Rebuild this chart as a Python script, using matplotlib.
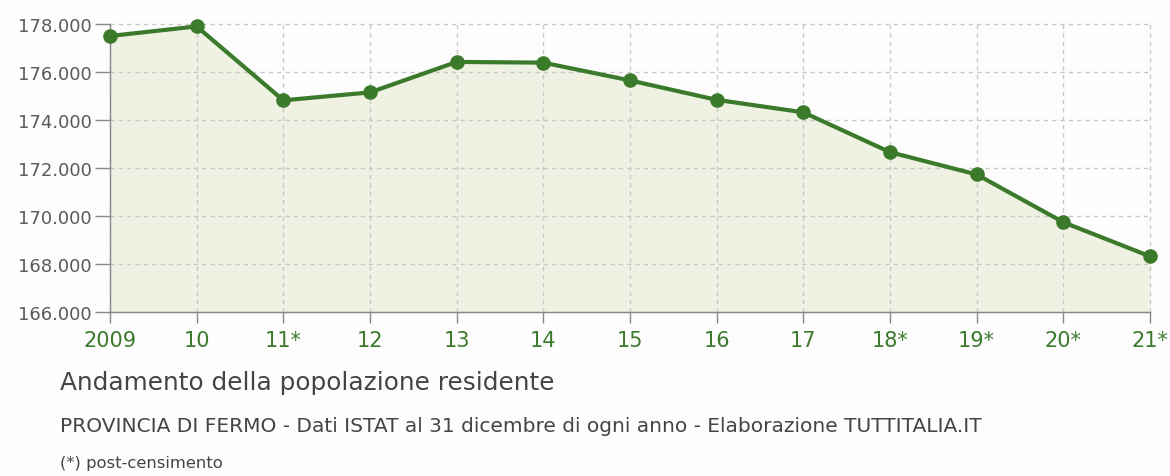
import matplotlib
matplotlib.use("Agg")
import matplotlib.pyplot as plt
from matplotlib.ticker import FuncFormatter

years = ["2009", "10", "11*", "12", "13", "14", "15", "16", "17", "18*", "19*", "20*", "21*"]
population = [177500, 177900, 174820, 175150, 176420, 176390, 175650, 174840, 174320, 172660, 171730, 169740, 168320]
yticks = [166000, 168000, 170000, 172000, 174000, 176000, 178000]

title = "Andamento della popolazione residente"
subtitle = "PROVINCIA DI FERMO - Dati ISTAT al 31 dicembre di ogni anno - Elaborazione TUTTITALIA.IT"
note = "(*) post-censimento"

plt.rcParams['font.family'] = ['DejaVu Sans']

W, H = 1170, 477
fig = plt.figure(figsize=(W / 100, H / 100), dpi=100)
fig.patch.set_facecolor("#fdfdfd")

left, right, top, bottom = 110, 1150, 25, 313
ax = fig.add_axes([left / W, 1 - bottom / H, (right - left) / W, (bottom - top) / H])
ax.set_facecolor("none")

green = "#3b7a2a"
x = list(range(len(years)))
ax.fill_between(x, population, 166000, color="#eff1e3", zorder=1)
ax.plot(x, population, color=green, lw=3, marker="o", ms=9.5, zorder=3, clip_on=False)

ax.set_xlim(0, len(years) - 1)
ax.set_ylim(166000, 178000)
ax.set_xticks(x)
ax.set_xticklabels(years)
ax.set_yticks(yticks)
ax.yaxis.set_major_formatter(FuncFormatter(lambda v, p: f"{int(v):,}".replace(",", ".")))

ax.grid(True, color="#c8c8c8", linestyle=(0, (3, 3)), lw=1, zorder=0, clip_on=False)
for s in ["top", "right"]:
    ax.spines[s].set_visible(False)
for s in ["left", "bottom"]:
    ax.spines[s].set_color("#888888")
    ax.spines[s].set_linewidth(1)
ax.tick_params(axis="y", colors="#888888", labelcolor="#5a5a5a", labelsize=13, length=11, width=1, pad=2)
ax.tick_params(axis="x", colors="#888888", labelcolor=green, labelsize=15, length=8, width=1, pad=5)

fig.text(60 / W, 1 - 383 / H, title, fontsize=17.8, color="#444444", va="center", ha="left")
fig.text(60 / W, 1 - 427 / H, subtitle, fontsize=14.5, color="#444444", va="center", ha="left")
fig.text(60 / W, 1 - 464 / H, note, fontsize=11.8, color="#444444", va="center", ha="left")

fig.savefig("out.png", dpi=100, facecolor=fig.get_facecolor())
